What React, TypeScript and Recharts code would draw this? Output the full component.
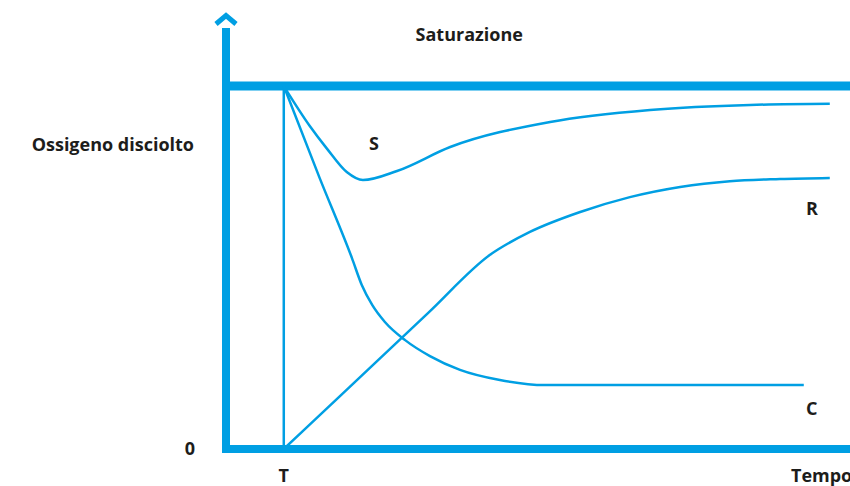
import {
  ComposedChart,
  Line,
  XAxis,
  YAxis,
  ReferenceLine,
  ReferenceDot,
} from "recharts";

const BLU = "#009FE3";
const TESTO = "#1d1d1b";

// tempo (asse x) e ossigeno disciolto (asse y), saturazione = 100
const SATURAZIONE = 100;
const TEMPO_T = 10;

const tempoS = [10, 14.5, 17.5, 20.9, 23.7, 29.6, 38.8, 56.1, 73.4, 90.7, 104.5];
const ossigenoS = [100, 89, 82.7, 76.3, 74.1, 76.6, 83.2, 90.1, 93.4, 94.8, 95.1];

const tempoC = [10, 16.2, 21.8, 23.5, 25.3, 27.5, 31, 35.3, 40.5, 47.4, 55.2, 100];
const ossigenoC = [100, 74.7, 52.6, 45.2, 39.7, 35, 30, 25.6, 21.8, 19, 17.6, 17.6];

const tempoR = [10, 20, 35, 45.7, 52.6, 61.3, 69.9, 78.6, 87.2, 95.9, 104.5];
const ossigenoR = [0, 15, 37.5, 53.5, 59.8, 65.3, 69.4, 72.2, 73.8, 74.4, 74.7];

const tickY = [0];
const tickX = [TEMPO_T];

const unisci = (xs: number[], ys: number[]) => xs.map((x, i) => ({ x, y: ys[i] }));

const serieS = unisci(tempoS, ossigenoS);
const serieC = unisci(tempoC, ossigenoC);
const serieR = unisci(tempoR, ossigenoR);

const stileTesto = {
  fontFamily: "'Open Sans', sans-serif",
  fontWeight: 700,
  fontSize: 18,
  fill: TESTO,
};

function etichetta(testo: string, anchor: "start" | "middle" | "end" = "middle") {
  return (props: any) => {
    const vb = props.viewBox || {};
    const x = (vb.x ?? 0) + (vb.width ?? 0) / 2;
    const y = (vb.y ?? 0) + (vb.height ?? 0) / 2;
    return (
      <text x={x} y={y} textAnchor={anchor} style={stileTesto}>
        {testo}
      </text>
    );
  };
}

function Freccia(props: any) {
  const vb = props.viewBox || {};
  const x = vb.x + vb.width;
  const y = vb.y;
  return (
    <g>
      <polyline
        points={`${x - 10},${y - 4} ${x},${y - 12.5} ${x + 10},${y - 4}`}
        fill="none"
        stroke={BLU}
        strokeWidth={5}
      />
      <text x={194} y={151} textAnchor="end" style={stileTesto}>
        Ossigeno disciolto
      </text>
    </g>
  );
}

function EtichettaTempo(props: any) {
  const vb = props.viewBox || {};
  return (
    <text x={791} y={vb.y + 33} textAnchor="start" style={stileTesto}>
      Tempo
    </text>
  );
}

export default function App() {
  return (
    <div style={{ position: "absolute", left: 0, top: 0 }}>
      <ComposedChart width={850} height={486} margin={{ top: 28, right: 0, left: 0, bottom: 0 }}>
        <XAxis
          type="number"
          dataKey="x"
          domain={[0, 108]}
          allowDataOverflow
          ticks={tickX}
          tickFormatter={() => "T"}
          tickSize={0}
          tickMargin={20}
          height={37}
          tick={stileTesto}
          axisLine={{ stroke: BLU, strokeWidth: 8, strokeLinecap: "square" }}
          label={<EtichettaTempo />}
        />
        <YAxis
          type="number"
          dataKey="y"
          domain={[0, 116]}
          allowDataOverflow
          ticks={tickY}
          tickSize={0}
          tickMargin={31}
          width={226}
          tick={stileTesto}
          axisLine={{ stroke: BLU, strokeWidth: 8 }}
          label={<Freccia />}
        />
        <ReferenceLine y={SATURAZIONE} stroke={BLU} strokeWidth={9} />
        <ReferenceLine
          segment={[
            { x: TEMPO_T, y: 0 },
            { x: TEMPO_T, y: SATURAZIONE },
          ]}
          stroke={BLU}
          strokeWidth={2.5}
        />
        <Line data={serieS} dataKey="y" type="monotone" stroke={BLU} strokeWidth={2.5} dot={false} isAnimationActive={false} />
        <Line data={serieC} dataKey="y" type="monotone" stroke={BLU} strokeWidth={2.5} dot={false} isAnimationActive={false} />
        <Line data={serieR} dataKey="y" type="monotone" stroke={BLU} strokeWidth={2.5} dot={false} isAnimationActive={false} />
        <ReferenceDot x={42.1} y={112.4} r={0} fill="none" stroke="none" ifOverflow="visible" label={etichetta("Saturazione")} />
        <ReferenceDot x={25.6} y={82.4} r={0} fill="none" stroke="none" ifOverflow="visible" label={etichetta("S")} />
        <ReferenceDot x={101.4} y={64.5} r={0} fill="none" stroke="none" ifOverflow="visible" label={etichetta("R")} />
        <ReferenceDot x={101.4} y={9.4} r={0} fill="none" stroke="none" ifOverflow="visible" label={etichetta("C")} />
      </ComposedChart>
    </div>
  );
}
